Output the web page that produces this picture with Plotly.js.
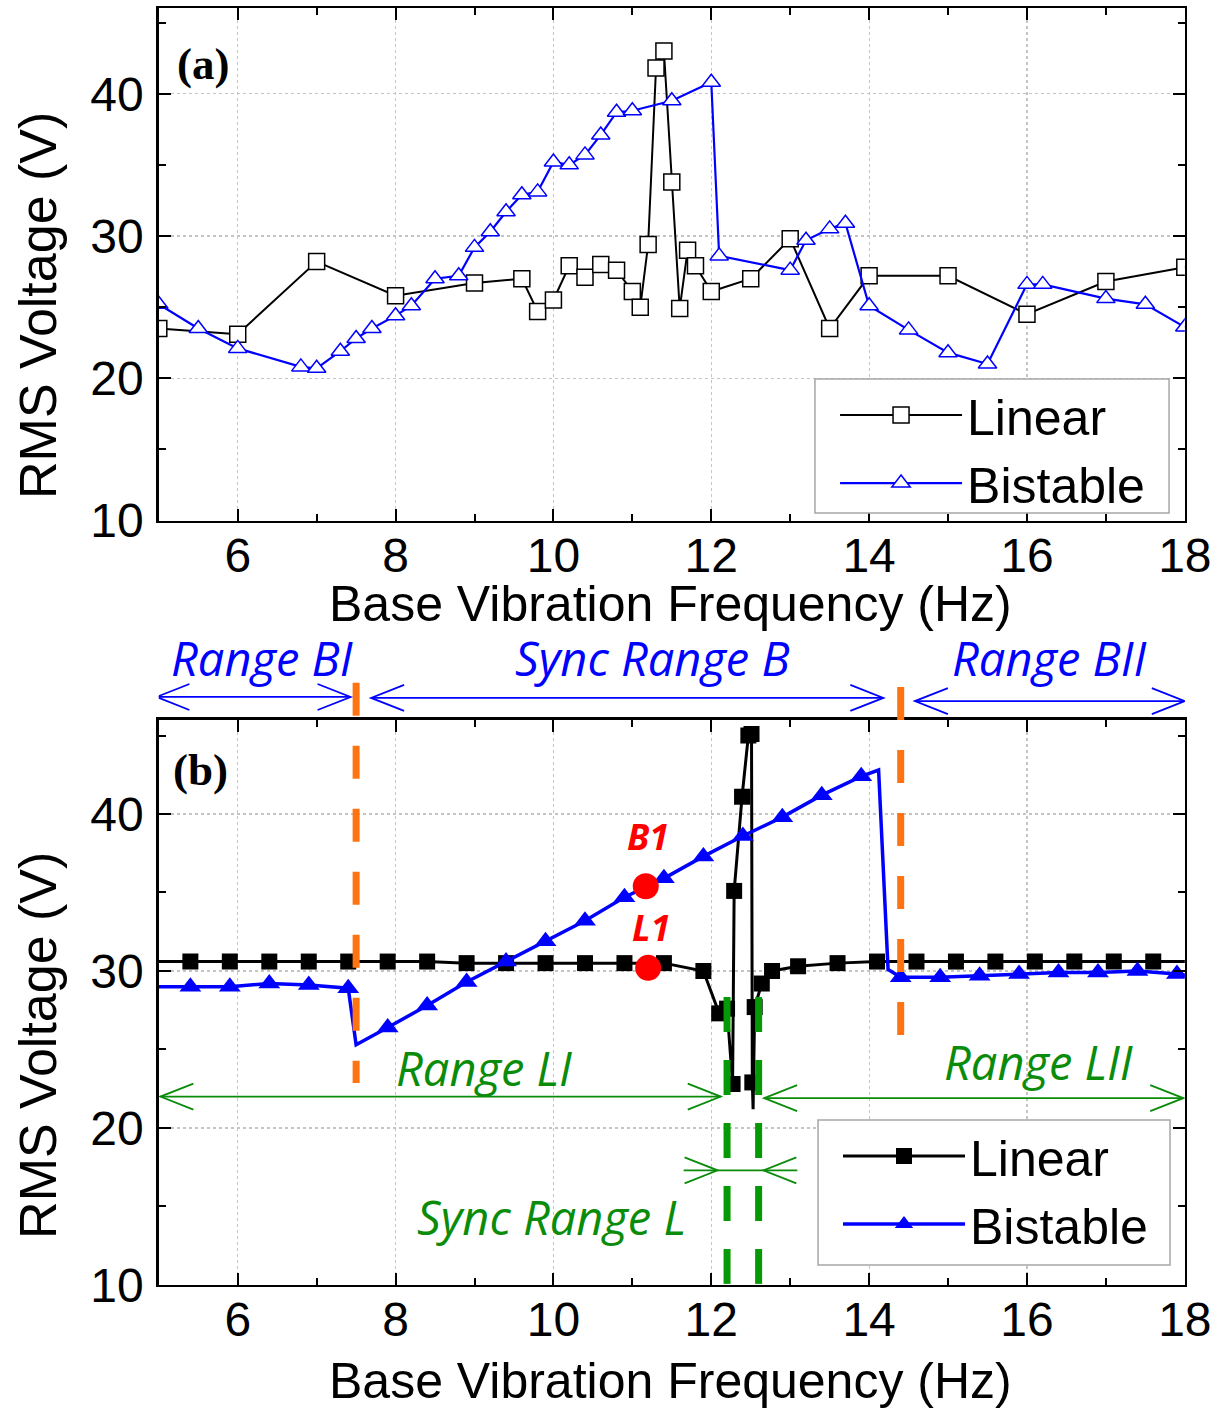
<!DOCTYPE html>
<html><head><meta charset="utf-8">
<script src="https://cdn.plot.ly/plotly-3.0.1.min.js"></script>
<style>body{margin:0;background:#fff}#chart{width:1232px;height:1410px}</style>
</head><body><div id="chart"></div>
<script>
// ---------- Panel (a) data ----------
const linA_f = [5.0, 6.0, 7.0, 8.0, 9.0, 9.6, 9.8, 10.0, 10.2, 10.4, 10.6, 10.8, 11.0, 11.1, 11.2, 11.3, 11.4, 11.5, 11.6, 11.7, 11.8, 12.0, 12.5, 13.0, 13.5, 14.0, 15.0, 16.0, 17.0, 18.0];
const linA_v = [23.5, 23.1, 28.2, 25.8, 26.7, 27.0, 24.7, 25.5, 27.9, 27.1, 28.0, 27.6, 26.1, 25.0, 29.4, 41.8, 43.0, 33.8, 24.9, 29.0, 27.9, 26.1, 27.0, 29.8, 23.5, 27.2, 27.2, 24.5, 26.8, 27.8];
const bisA_f = [5.0, 5.5, 6.0, 6.8, 7.0, 7.3, 7.5, 7.7, 8.0, 8.2, 8.5, 8.8, 9.0, 9.2, 9.4, 9.6, 9.8, 10.0, 10.2, 10.4, 10.6, 10.8, 11.0, 11.5, 12.0, 12.1, 13.0, 13.2, 13.5, 13.7, 14.0, 14.5, 15.0, 15.5, 16.0, 16.2, 17.0, 17.5, 18.0];
const bisA_v = [25.2, 23.5, 22.1, 20.8, 20.7, 21.9, 22.8, 23.5, 24.4, 25.1, 27.0, 27.2, 29.2, 30.3, 31.7, 32.9, 33.1, 35.2, 35.0, 35.7, 37.1, 38.7, 38.8, 39.5, 40.8, 28.6, 27.6, 29.7, 30.5, 30.9, 25.1, 23.4, 21.8, 21.0, 26.6, 26.6, 25.6, 25.2, 23.6];

// ---------- Panel (b) data ----------
const linB_f = [5.4, 5.9, 6.4, 6.9, 7.4, 7.9, 8.4, 8.9, 9.4, 9.9, 10.4, 10.9, 11.4, 11.9, 12.1, 12.2, 12.27, 12.29, 12.39, 12.47, 12.51, 12.52, 12.55, 12.64, 12.77, 13.1, 13.6, 14.1, 14.6, 15.1, 15.6, 16.1, 16.6, 17.1, 17.6];
const linB_v = [30.6, 30.6, 30.6, 30.6, 30.6, 30.6, 30.6, 30.5, 30.5, 30.5, 30.5, 30.5, 30.5, 30.0, 27.3, 27.6, 22.8, 35.1, 41.1, 45.0, 45.1, 22.9, 27.7, 29.2, 30.0, 30.3, 30.5, 30.6, 30.6, 30.6, 30.6, 30.6, 30.6, 30.6, 30.6];
const linB_extra_f = [4.9, 12.53, 18.1];          // line vertices without a marker
const linB_extra_v = [30.6, 21.2, 30.6];
const bisB_f = [5.4, 5.9, 6.4, 6.9, 7.4, 7.9, 8.4, 8.9, 9.4, 9.9, 10.4, 10.9, 11.4, 11.9, 12.4, 12.9, 13.4, 13.9, 14.4, 14.9, 15.4, 15.9, 16.4, 16.9, 17.4, 17.9];
const bisB_v = [29.0, 29.0, 29.2, 29.1, 28.9, 26.4, 27.8, 29.3, 30.6, 31.9, 33.2, 34.7, 35.9, 37.3, 38.6, 39.8, 41.2, 42.4, 29.6, 29.6, 29.7, 29.8, 29.9, 29.9, 30.0, 29.8];
const bisB_extra_f = [4.9, 7.5, 14.12, 14.24, 18.1];
const bisB_extra_v = [29.0, 25.3, 42.8, 30.1, 29.7];
const red_f = [11.17, 11.2];
const red_v = [35.4, 30.2];
const red_labels = ['B1', 'L1'];

// Range markers (b)
const orangeLines_f = [7.5, 14.4];
const greenLines_f = [12.2, 12.6];
const blueRanges = [[4.97, 7.43], [7.69, 14.18], [14.58, 18.0]];
const blueRangeLabels = ['Range BI', 'Sync Range B', 'Range BII'];
const blueRangeLabel_f = [6.31, 11.26, 16.28];
const greenRanges = [[5.02, 12.12], [12.67, 17.98]];
const greenRangeLabels = ['Range LI', 'Range LII'];
const greenRangeLabel_f = [9.12, 16.14];
const greenRangeLabel_v = [23.8, 24.2];
const syncL_line = [11.65, 13.09];
const syncL_tips = [12.08, 12.66];
const syncL_v = 17.3;

const X_TICKS = [6, 8, 10, 12, 14, 16, 18];
const Y_TICKS = [10, 20, 30, 40];

// ---------- helpers ----------
function mergeLine(f, v, ef, ev) {
  const pts = f.map((x, i) => [x, v[i]]).concat(ef.map((x, i) => [x, ev[i]]));
  pts.sort((a, b) => a[0] - b[0]);
  return {x: pts.map(p => p[0]), y: pts.map(p => p[1])};
}
const FONT = 'Liberation Sans, Arial, sans-serif';
const BLUE = '#0000FF', GREEN = '#0A8C0A', ORANGE = '#FF7410', GREENDASH = '#059A05';

const linBLine = mergeLine(linB_f, linB_v, linB_extra_f, linB_extra_v);
const bisBLine = mergeLine(bisB_f, bisB_v, bisB_extra_f, bisB_extra_v);

const traces = [
  // (a)
  {x: linA_f, y: linA_v, xaxis: 'x', yaxis: 'y', mode: 'lines+markers', name: 'Linear', legend: 'legend',
   line: {color: '#000', width: 2}, marker: {symbol: 'square', size: 16, color: '#fff', line: {color: '#000', width: 1.5}}},
  {x: bisA_f, y: bisA_v, xaxis: 'x', yaxis: 'y', mode: 'lines+markers', name: 'Bistable', legend: 'legend',
   line: {color: BLUE, width: 2.2}, marker: {symbol: 'triangle-up', size: 16, color: '#fff', line: {color: BLUE, width: 1.5}}},
  // (b)
  {x: linBLine.x, y: linBLine.y, xaxis: 'x2', yaxis: 'y2', mode: 'lines', showlegend: false,
   line: {color: '#000', width: 3}},
  {x: linB_f, y: linB_v, xaxis: 'x2', yaxis: 'y2', mode: 'markers', showlegend: false,
   marker: {symbol: 'square', size: 16, color: '#000'}},
  {x: bisBLine.x, y: bisBLine.y, xaxis: 'x2', yaxis: 'y2', mode: 'lines', showlegend: false,
   line: {color: BLUE, width: 3.5}},
  {x: bisB_f, y: bisB_v, xaxis: 'x2', yaxis: 'y2', mode: 'markers', showlegend: false,
   marker: {symbol: 'triangle-up', size: 19, color: BLUE}},
  {x: red_f, y: red_v, xaxis: 'x2', yaxis: 'y2', mode: 'markers', showlegend: false,
   marker: {symbol: 'circle', size: 26, color: '#FF0000'}},
  // legend entries for (b)
  {x: [null], y: [null], xaxis: 'x2', yaxis: 'y2', mode: 'lines+markers', name: 'Linear', legend: 'legend2',
   line: {color: '#000', width: 3}, marker: {symbol: 'square', size: 16, color: '#000'}},
  {x: [null], y: [null], xaxis: 'x2', yaxis: 'y2', mode: 'lines+markers', name: 'Bistable', legend: 'legend2',
   line: {color: BLUE, width: 3.5}, marker: {symbol: 'triangle-up', size: 16, color: BLUE}}
];

const xDom = [0.1289, 0.9617];
function xAxis(anchor) {
  return {domain: xDom, anchor: anchor, range: [5, 18], tickvals: X_TICKS, ticktext: X_TICKS.map(String),
    ticks: 'inside', ticklen: 12, tickwidth: 2, tickcolor: '#000',
    showline: true, linecolor: '#000', linewidth: 2.5, mirror: 'ticks',
    showgrid: true, gridcolor: '#c4c4c4', griddash: 'dot', gridwidth: 1.2, zeroline: false,
    tickfont: {family: FONT, size: 48, color: '#000'}, ticklabelstandoff: -9,
    minor: {dtick: 1, tick0: 0, ticks: 'inside', ticklen: 7, tickwidth: 2, tickcolor: '#000', showgrid: false}};
}
function yAxis(anchor, dom) {
  return {domain: dom, anchor: anchor, range: [10, 46], tickvals: Y_TICKS, ticktext: Y_TICKS.map(String),
    ticks: 'inside', ticklen: 12, tickwidth: 2, tickcolor: '#000',
    showline: true, linecolor: '#000', linewidth: 2.5, mirror: 'ticks',
    showgrid: true, gridcolor: '#c4c4c4', griddash: 'dot', gridwidth: 1.2, zeroline: false,
    tickfont: {family: FONT, size: 48, color: '#000'}, ticklabelstandoff: 3,
    minor: {dtick: 5, tick0: 0, ticks: 'inside', ticklen: 7, tickwidth: 2, tickcolor: '#000', showgrid: false}};
}

// ---------- shapes ----------
const shapes = [];
// legend frames (opaque, drawn over the grid)
[[0.6615, 0.9489, 0.6362, 0.7312], [0.664, 0.9497, 0.1028, 0.2057]].forEach(b => shapes.push({
  type: 'rect', xref: 'paper', yref: 'paper', x0: b[0], x1: b[1], y0: b[2], y1: b[3], layer: 'above',
  fillcolor: '#fff', line: {color: '#a6a6a6', width: 1.5}}));
orangeLines_f.forEach((f, i) => {
  const y0 = [1.0655, 1.058][i], y1 = [0.3574, 0.4423][i];
  shapes.push({type: 'line', xref: 'x2', yref: 'y2 domain', x0: f, x1: f, y0: y0, y1: y1, layer: 'above',
    line: {color: ORANGE, width: 7, dash: '33px,30px'}});
});
greenLines_f.forEach(f => {
  shapes.push({type: 'line', xref: 'x2', yref: 'y2', x0: f, x1: f, y0: 28.35, y1: 10, layer: 'above',
    line: {color: GREENDASH, width: 7, dash: '35px,28px'}});
});
function head(xref, yref, x, y, dir, color) {
  // dir = -1: tip points left (arms to the right); +1: tip points right
  const a = -dir * 33;
  shapes.push({type: 'path', xref: xref, yref: yref, xsizemode: 'pixel', ysizemode: 'pixel',
    xanchor: x, yanchor: y, path: `M${a},13 L0,0 L${a},-13`, layer: 'above',
    line: {color: color, width: 1.8}});
}
function dblArrow(xref, yref, x0, x1, y, color) {
  shapes.push({type: 'line', xref: xref, yref: yref, x0: x0, x1: x1, y0: y, y1: y, layer: 'above',
    line: {color: color, width: 1.8}});
  head(xref, yref, x0, y, -1, color);
  head(xref, yref, x1, y, 1, color);
}
const blueY = [0.5057, 0.505, 0.5028];
blueRanges.forEach((r, i) => dblArrow('x2', 'paper', r[0], r[1], blueY[i], BLUE));
const greenY = [22.0, 21.9];
greenRanges.forEach((r, i) => dblArrow('x2', 'y2', r[0], r[1], greenY[i], GREEN));
shapes.push({type: 'line', xref: 'x2', yref: 'y2', x0: syncL_line[0], x1: syncL_line[1], y0: syncL_v, y1: syncL_v,
  layer: 'above', line: {color: GREEN, width: 1.8}});
head('x2', 'y2', syncL_tips[0], syncL_v, 1, GREEN);
head('x2', 'y2', syncL_tips[1], syncL_v, -1, GREEN);

// ---------- annotations ----------
const RANGEFONT = {family: 'Open Sans, Noto Sans, sans-serif', size: 47, style: 'italic'};
const annotations = [];
blueRangeLabels.forEach((t, i) => annotations.push({text: t, xref: 'x2', yref: 'paper', x: blueRangeLabel_f[i],
  y: 0.5335, showarrow: false, xanchor: 'center', yanchor: 'middle', font: Object.assign({color: BLUE}, RANGEFONT)}));
greenRangeLabels.forEach((t, i) => annotations.push({text: t, xref: 'x2', yref: 'y2', x: greenRangeLabel_f[i],
  y: greenRangeLabel_v[i], showarrow: false, xanchor: 'center', yanchor: 'middle', font: Object.assign({color: GREEN}, RANGEFONT)}));
annotations.push({text: 'Sync Range L', xref: 'x2', yref: 'y2', x: 9.97, y: 14.3, showarrow: false,
  xanchor: 'center', yanchor: 'middle', font: Object.assign({color: GREEN}, RANGEFONT)});
red_labels.forEach((t, i) => annotations.push({text: t, xref: 'x2', yref: 'y2', x: red_f[i] + 0.03, y: red_v[i],
  yshift: [50, 40][i], showarrow: false, xanchor: 'center', yanchor: 'middle',
  font: {family: 'Open Sans, Noto Sans, sans-serif', size: 36, style: 'italic', weight: 'bold', color: '#FF0000'}}));
annotations.push({text: '(a)', xref: 'x', yref: 'y', x: 5.56, y: 42.1, showarrow: false, xanchor: 'center', yanchor: 'middle',
  font: {family: 'Liberation Serif, Times New Roman, serif', size: 45, weight: 'bold', color: '#000'}});
annotations.push({text: '(b)', xref: 'x2', yref: 'y2', x: 5.53, y: 42.8, showarrow: false, xanchor: 'center', yanchor: 'middle',
  font: {family: 'Liberation Serif, Times New Roman, serif', size: 45, weight: 'bold', color: '#000'}});
// axis titles
[0.7837, 0.2589].forEach(y => annotations.push({text: 'RMS Voltage (V)', xref: 'paper', yref: 'paper', x: 0.0308, y: y,
  textangle: -90, showarrow: false, xanchor: 'center', yanchor: 'middle', font: {family: FONT, size: 52, color: '#000'}}));
[0.5715, 0.0205].forEach(y => annotations.push({text: 'Base Vibration Frequency (Hz)', xref: 'paper', yref: 'paper', x: 0.5446, y: y,
  showarrow: false, xanchor: 'center', yanchor: 'middle', font: {family: FONT, size: 50, color: '#000'}}));

const legendCommon = {xanchor: 'left', yanchor: 'top', bgcolor: 'rgba(0,0,0,0)', borderwidth: 0,
  font: {family: FONT, size: 50, color: '#000'}, itemwidth: 122, tracegroupgap: 0};

const layout = {
  width: 1232, height: 1410, margin: {l: 0, r: 0, t: 0, b: 0},
  paper_bgcolor: '#fff', plot_bgcolor: '#fff', showlegend: true,
  xaxis: xAxis('y'), yaxis: yAxis('x', [0.6308, 0.9941]),
  xaxis2: xAxis('y2'), yaxis2: yAxis('x2', [0.0887, 0.4895]),
  legend: Object.assign({x: 0.6778, y: 0.7333}, legendCommon),
  legend2: Object.assign({x: 0.6802, y: 0.2078}, legendCommon),
  shapes: shapes, annotations: annotations
};
Plotly.newPlot('chart', traces, layout, {displayModeBar: false, staticPlot: true});
</script></body></html>
